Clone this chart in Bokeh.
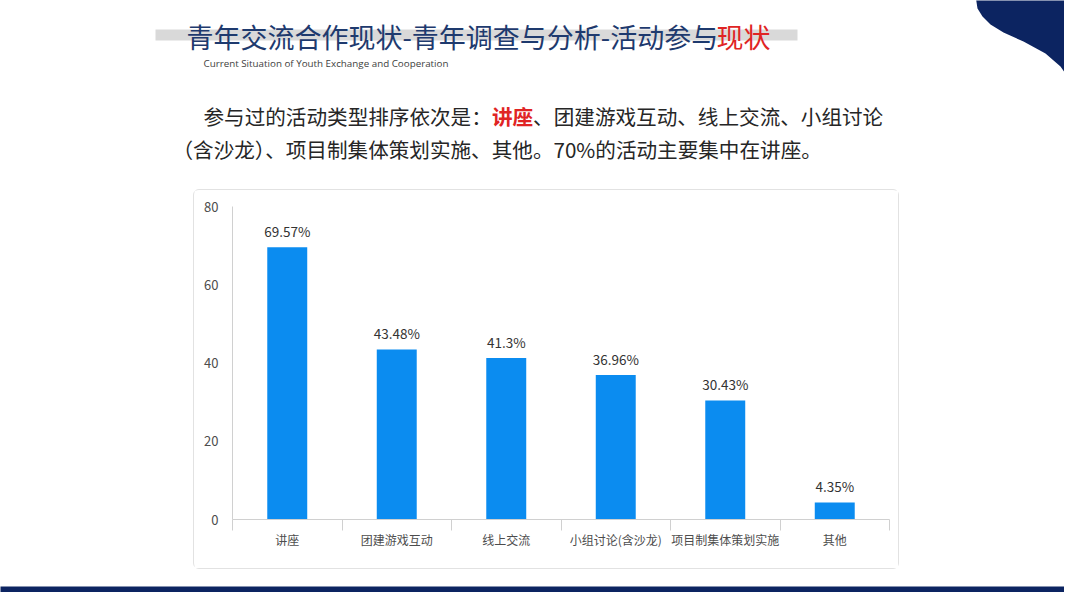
from bokeh.plotting import figure
from bokeh.models import Range1d, FixedTicker, Spacer
from bokeh.layouts import column, row
from bokeh.core.properties import value
from bokeh.embed import file_html
from bokeh.resources import INLINE

# ---------------- data ----------------
categories = ["讲座", "团建游戏互动", "线上交流", "小组讨论(含沙龙)", "项目制集体策划实施", "其他"]
percent = [69.57, 43.48, 41.3, 36.96, 30.43, 4.35]
y_ticks = [0, 20, 40, 60, 80]

title_main = "青年交流合作现状-青年调查与分析-活动参与"
title_red = "现状"
subtitle = "Current Situation of Youth Exchange and Cooperation"
para1_a = "参与过的活动类型排序依次是："
para1_red = "讲座"
para1_b = "、团建游戏互动、线上交流、小组讨论"
para2 = "（含沙龙）、项目制集体策划实施、其他。70%的活动主要集中在讲座。"

CJK = value("Noto Sans CJK SC")
NAVY = "#0c2461"
TITLE_NAVY = "#1e3a6e"
RED = "#e02424"
BAR = "#0b8cf0"

W, H = 1064, 592
CARD_TOP, CARD_BOTTOM, CARD_LEFT, CARD_RIGHT = 189, 569, 193, 899

# ---------------- top header figure (page pixel coordinates) ----------------
top = figure(width=W, height=CARD_TOP, x_range=Range1d(0, W), y_range=Range1d(CARD_TOP, 0),
             output_backend="svg", toolbar_location=None, min_border=0)
top.axis.visible = False
top.grid.visible = False
top.outline_line_color = None
top.background_fill_color = "white"
top.border_fill_color = "white"

# grey strip behind title
top.quad(left=[155], right=[797], top=[29], bottom=[40], color="#d9d9d9", line_color=None)
# title
top.text(x=[186], y=[36], text=[title_main], text_font=CJK, text_font_size="27px",
         text_color=TITLE_NAVY, text_baseline="middle", text_align="left")
top.text(x=[716], y=[36], text=[title_red], text_font=CJK, text_font_size="27px",
         text_color=RED, text_baseline="middle", text_align="left")
# subtitle
top.text(x=[203], y=[63], text=[subtitle], text_font=value("Open Sans"), text_font_size="9.8px",
         text_color="#404040", text_baseline="middle", text_align="left")
# paragraph
fs = 20.6
top.text(x=[203], y=[115], text=[para1_a], text_font=CJK, text_font_size=f"{fs}px",
         text_color="#262626", text_baseline="middle", text_align="left")
top.text(x=[203 + fs * len(para1_a)], y=[115], text=[para1_red], text_font=CJK,
         text_font_size=f"{fs}px", text_font_style="bold",
         text_color=RED, text_baseline="middle", text_align="left")
top.text(x=[203 + fs * (len(para1_a) + len(para1_red))], y=[115], text=[para1_b], text_font=CJK,
         text_font_size=f"{fs}px", text_color="#262626", text_baseline="middle", text_align="left")
top.text(x=[172], y=[148], text=[para2], text_font=CJK, text_font_size=f"{fs}px",
         text_color="#262626", text_baseline="middle", text_align="left")
# top-right wave shape
top.patch(x=[975, 977, 982, 990, 1003, 1023, 1045, 1060, 1070, 1077, 1082, 1082, 975],
          y=[-5, 8, 16, 24, 32, 41, 53, 66, 80, 93, 102, -5, -5],
          color=NAVY, line_color=None)

# ---------------- chart ----------------
idx = list(range(len(categories)))
labels = [f"{v:g}%" for v in percent]

p = figure(width=CARD_RIGHT - CARD_LEFT, height=CARD_BOTTOM - CARD_TOP,
           x_range=Range1d(-0.5, len(categories) - 0.5), y_range=Range1d(0, 80),
           output_backend="svg", toolbar_location=None,
           min_border_left=38, min_border_right=11, min_border_top=16, min_border_bottom=51)
p.grid.visible = False
p.outline_line_color = None
p.background_fill_color = "white"
p.border_fill_color = "white"
p.styles = {"border": "1px solid #e2e2e2", "border-radius": "6px", "box-sizing": "border-box"}

p.vbar(x=idx, top=percent, width=0.365, color=BAR, line_color=None)
p.text(x=idx, y=percent, text=labels, text_align="center", text_baseline="bottom", y_offset=-6,
       text_font=CJK, text_font_size="13.5px", text_color="#333333")

xa = p.xaxis[0]
xa.ticker = FixedTicker(ticks=idx, minor_ticks=[i - 0.5 for i in range(len(categories) + 1)])
xa.major_label_overrides = {i: c for i, c in enumerate(categories)}
xa.major_tick_line_color = None
xa.major_tick_out = 10
xa.major_tick_in = 0
xa.minor_tick_out = 11
xa.minor_tick_in = 0
xa.minor_tick_line_color = "#d0d0d0"
xa.axis_line_color = "#d0d0d0"
xa.major_label_standoff = 0
xa.major_label_text_font = "Noto Sans CJK SC"
xa.major_label_text_font_size = "12px"
xa.major_label_text_color = "#4d4d4d"

ya = p.yaxis[0]
ya.ticker = FixedTicker(ticks=y_ticks)
ya.major_tick_line_color = None
ya.major_tick_out = 0
ya.major_tick_in = 0
ya.minor_tick_line_color = None
ya.axis_line_color = "#d0d0d0"
ya.major_label_standoff = 14
ya.major_label_text_font = "Noto Sans CJK SC"
ya.major_label_text_font_size = "13px"
ya.major_label_text_color = "#4d4d4d"

# ---------------- bottom band ----------------
bottom = figure(width=W, height=H - CARD_BOTTOM, x_range=Range1d(0, W), y_range=Range1d(H, CARD_BOTTOM),
                output_backend="svg", toolbar_location=None, min_border=0)
bottom.axis.visible = False
bottom.grid.visible = False
bottom.outline_line_color = None
bottom.border_fill_color = "white"
bottom.quad(left=[-10], right=[W + 10], top=[586], bottom=[H + 10], color=NAVY, line_color=None)

layout = column(top,
                row(Spacer(width=CARD_LEFT, height=CARD_BOTTOM - CARD_TOP), p,
                    Spacer(width=W - CARD_RIGHT, height=CARD_BOTTOM - CARD_TOP)),
                bottom)

open("out.html", "w").write(file_html(layout, INLINE))
